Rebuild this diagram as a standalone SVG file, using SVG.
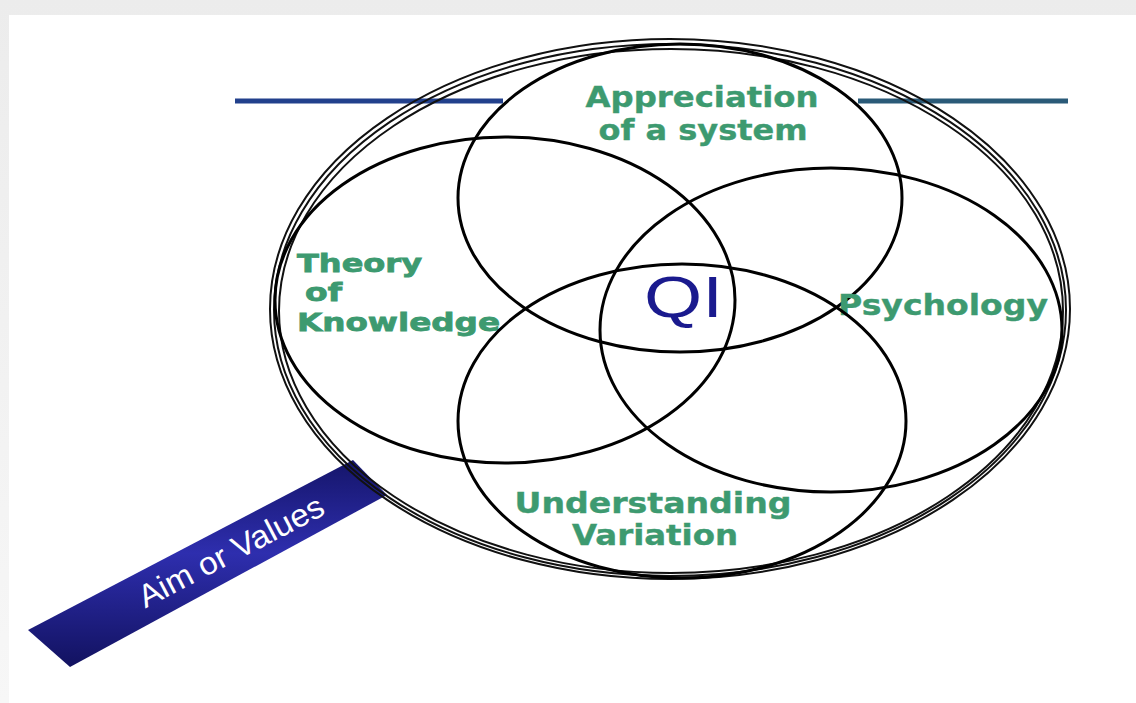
<svg xmlns="http://www.w3.org/2000/svg" width="1136" height="703" viewBox="0 0 1136 703">
  <defs>
    <linearGradient id="barGrad" x1="0" y1="0" x2="0" y2="1">
      <stop offset="0" stop-color="#15156a"/>
      <stop offset="0.45" stop-color="#2e2eae"/>
      <stop offset="1" stop-color="#121260"/>
    </linearGradient>
    <linearGradient id="topShade" x1="0" y1="0" x2="0" y2="1">
      <stop offset="0" stop-color="#ececec"/>
      <stop offset="1" stop-color="#f7f7f7"/>
    </linearGradient>
  </defs>
  <style>
    .ring { fill: none; stroke: #111; stroke-width: 2; }
    .lens { fill: none; stroke: #000; stroke-width: 3; }
    .lbl { font-family: "DejaVu Sans", Verdana, sans-serif; font-weight: bold; font-size: 28px; fill: #3d9a70; stroke: #3d9a70; stroke-width: 0.4; }
    .lbl-s { font-size: 25px; stroke-width: 0.8; }
    .qi { font-family: "Liberation Sans", Arial, sans-serif; font-size: 58px; fill: #1a1a8e; }
    .aim { font-family: "Liberation Sans", Arial, sans-serif; font-size: 32px; fill: #ffffff; }
    .rule { stroke-width: 5; stroke-linecap: butt; }
  </style>

  <!-- background -->
  <rect x="0" y="0" width="1136" height="703" fill="url(#topShade)"/>
  <rect x="9" y="15" width="1127" height="688" fill="#ffffff"/>

  <!-- horizontal rule -->
  <g id="rule">
    <line class="rule" x1="235" y1="101" x2="503" y2="101" stroke="#22408c"/>
    <line class="rule" x1="858" y1="101" x2="1068" y2="101" stroke="#2a5a78"/>
  </g>

  <!-- handle -->
  <g id="handle">
    <polygon points="28,630 353,460 387,495 70,667" fill="url(#barGrad)"/>
    <text class="aim" x="236" y="561" text-anchor="middle" textLength="205" lengthAdjust="spacingAndGlyphs" transform="rotate(-27.6 236 561)">Aim or Values</text>
  </g>

  <!-- outer lens ring -->
  <g id="outer-ring">
    <ellipse class="ring" cx="670" cy="309" rx="400" ry="270"/>
    <ellipse class="ring" cx="670" cy="310" rx="396" ry="266"/>
    <ellipse class="ring" cx="671" cy="311" rx="392" ry="262"/>
  </g>

  <g id="connectors"></g>

  <g id="appreciation">
    <ellipse class="lens" cx="680" cy="198" rx="222" ry="154"/>
    <text class="lbl" x="702" y="107" text-anchor="middle" textLength="233" lengthAdjust="spacingAndGlyphs">Appreciation</text>
    <text class="lbl" x="703" y="140" text-anchor="middle" textLength="209" lengthAdjust="spacingAndGlyphs">of a system</text>
  </g>

  <g id="theory">
    <ellipse class="lens" cx="505" cy="300" rx="230" ry="163"/>
    <text class="lbl lbl-s" x="297" y="272" textLength="125" lengthAdjust="spacingAndGlyphs">Theory</text>
    <text class="lbl lbl-s" x="305" y="301" textLength="37" lengthAdjust="spacingAndGlyphs">of</text>
    <text class="lbl lbl-s" x="297" y="331" textLength="203" lengthAdjust="spacingAndGlyphs">Knowledge</text>
  </g>

  <g id="psychology">
    <ellipse class="lens" cx="831" cy="330" rx="231" ry="162"/>
    <text class="lbl" x="838" y="315" textLength="210" lengthAdjust="spacingAndGlyphs">Psychology</text>
  </g>

  <g id="understanding">
    <ellipse class="lens" cx="682" cy="421" rx="224" ry="157"/>
    <text class="lbl" x="653" y="513" text-anchor="middle" textLength="277" lengthAdjust="spacingAndGlyphs">Understanding</text>
    <text class="lbl" x="655" y="545" text-anchor="middle" textLength="166" lengthAdjust="spacingAndGlyphs">Variation</text>
  </g>

  <g id="qi">
    <text class="qi" x="644" y="317" textLength="79" lengthAdjust="spacingAndGlyphs">QI</text>
  </g>
</svg>
